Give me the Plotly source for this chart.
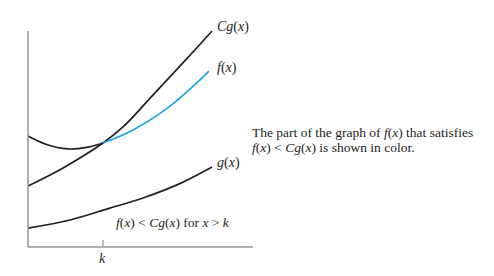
import plotly.graph_objects as go

# Curves (data units: origin at the axes corner)
cg_x = [0.0, 1.64, 3.33, 4.31, 5.56, 7.07, 8.18]
cg_y = [2.71, 3.56, 4.62, 5.42, 6.76, 8.38, 9.60]

f_black_x = [0.0, 0.76, 1.78, 2.67, 3.33]
f_black_y = [4.93, 4.58, 4.36, 4.44, 4.62]

f_blue_x = [3.33, 4.67, 6.18, 7.33, 8.04]
f_blue_y = [4.62, 5.20, 6.16, 7.14, 7.82]

g_x = [0.0, 1.87, 3.64, 5.11, 6.62, 8.18]
g_y = [0.84, 1.20, 1.73, 2.18, 2.76, 3.56]

k_value = 3.33
x_axis_end = 10.0
y_axis_end = 9.6

curve_labels = ["<i>Cg</i>(<i>x</i>)", "<i>f</i>(<i>x</i>)", "<i>g</i>(<i>x</i>)"]
label_y = [9.78, 7.96, 3.73]
label_x = 8.33

note_lines = ["The part of the graph of <i>f</i>(<i>x</i>) that satisfies",
              "<i>f</i>(<i>x</i>) &lt; <i>Cg</i>(<i>x</i>) is shown in color."]
note_y = [5.08, 4.42]

BLACK = "#231f20"
BLUE = "#1aa7e4"
GRAY = "#9a9a9a"
FONT = "Liberation Serif"

fig = go.Figure()
line_w = 1.7
fig.add_trace(go.Scatter(x=cg_x, y=cg_y, mode="lines", line=dict(color=BLACK, width=line_w, shape="spline"), hoverinfo="skip"))
fig.add_trace(go.Scatter(x=f_black_x, y=f_black_y, mode="lines", line=dict(color=BLACK, width=line_w, shape="spline"), hoverinfo="skip"))
fig.add_trace(go.Scatter(x=g_x, y=g_y, mode="lines", line=dict(color=BLACK, width=line_w, shape="spline"), hoverinfo="skip"))
fig.add_trace(go.Scatter(x=f_blue_x, y=f_blue_y, mode="lines", line=dict(color=BLUE, width=line_w, shape="spline"), hoverinfo="skip"))

# axes
fig.add_shape(type="line", x0=0, y0=0, x1=0, y1=y_axis_end, xref="x", yref="y", line=dict(color=GRAY, width=1.6))
fig.add_shape(type="line", x0=0, y0=0, x1=x_axis_end, y1=0, xref="x", yref="y", line=dict(color=GRAY, width=1.6))
fig.add_shape(type="line", x0=k_value, y0=0, x1=k_value, y1=0.31, xref="x", yref="y", line=dict(color=GRAY, width=1.3))

for txt, ly in zip(curve_labels, label_y):
    fig.add_annotation(x=label_x, y=ly, text=txt, showarrow=False, xanchor="left", yanchor="middle",
                       font=dict(family=FONT, size=14, color=BLACK))

fig.add_annotation(x=k_value, y=-0.5, text="<i>k</i>", showarrow=False, xanchor="center", yanchor="middle",
                   font=dict(family=FONT, size=14, color=BLACK))

fig.add_annotation(x=3.8, y=1.07, text="<i>f</i>(<i>x</i>) &lt; <i>Cg</i>(<i>x</i>) for <i>x</i> &gt; <i>k</i>",
                   showarrow=False, xanchor="left", yanchor="middle",
                   font=dict(family=FONT, size=13.5, color=BLACK))

for txt, ny in zip(note_lines, note_y):
    fig.add_annotation(x=9.87, y=ny, text=txt, showarrow=False, xanchor="left", yanchor="middle", align="left",
                       font=dict(family=FONT, size=13.5, color=BLACK))

px_per_unit = 22.5
fig.update_layout(
    width=494, height=276,
    margin=dict(l=0, r=0, t=0, b=0),
    paper_bgcolor="white", plot_bgcolor="white",
    showlegend=False,
    xaxis=dict(range=[-28 / px_per_unit, (494 - 28) / px_per_unit], visible=False, fixedrange=True),
    yaxis=dict(range=[(247 - 276) / px_per_unit, 247 / px_per_unit], visible=False, fixedrange=True),
)

fig.write_html("out.html")
